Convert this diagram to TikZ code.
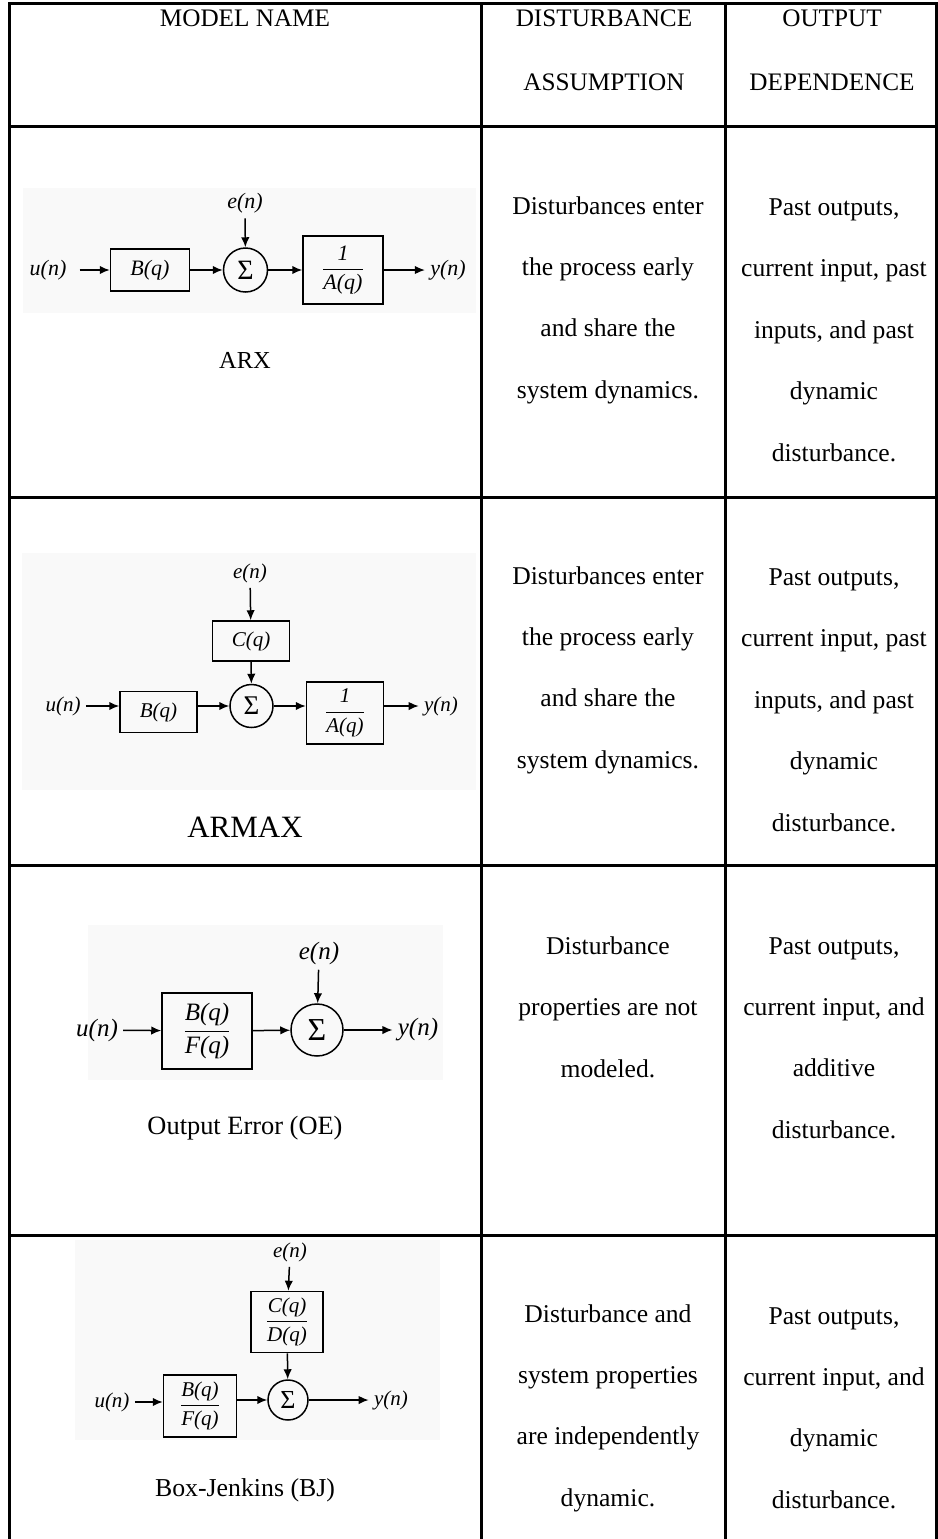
\documentclass[tikz,border=0pt]{standalone}
\usepackage{fontspec}
\setmainfont{Liberation Serif}
\usepackage{tikz}
\usetikzlibrary{arrows.meta}
\newcommand{\blkfrac}[2]{$\displaystyle\frac{\textit{#1}}{\textit{#2}}$}
\newcommand{\fsz}[1]{\fontsize{#1}{#1}\selectfont}

\begin{document}
\begin{tikzpicture}[x=0.5pt,y=-0.5pt,>={Latex[length=5pt,width=4.2pt]},
    grid/.style={line width=1.5pt},
    cell/.style={align=center,inner sep=0pt,font=\fontsize{12.8}{30.7}\selectfont},
    head/.style={align=center,inner sep=0pt,font=\fontsize{12.6}{32}\selectfont},
    bgfill/.style={fill=black!2.5},
    sig/.style={inner sep=2.5pt,font=\itshape},
    blk/.style={draw,line width=0.75pt,inner sep=0pt,font=\itshape},
    sumnode/.style={draw,circle,line width=0.75pt,inner sep=0pt},
    flow/.style={->,line width=0.75pt}]
     \useasboundingbox (0,0) rectangle (938,1539);
     % table rules
     \draw[grid] (9,1539) -- (9,3) -- (936,3) -- (936,1539);
     \draw[grid] (481,3) -- (481,1539);
     \draw[grid] (725,3) -- (725,1539);
     \foreach \y in {126,497,865,1235}
       \draw[grid] (9,\y) -- (936,\y);
     % header row
     \node[head] (hname) at (245,18) {MODEL NAME};
     \node[head] (hdist) at (604,50) {DISTURBANCE\\ASSUMPTION};
     \node[head] (hout) at (832,50) {OUTPUT\\DEPENDENCE};

     % ARX
     \fill[bgfill] (23,188) rectangle (476,313);
     \node[sig,font=\itshape\fsz{11}] (arxe) at (245,203) {e(n)};
     \node[sig,font=\itshape\fsz{11}] (arxu) at (48,270) {u(n)};
     \node[blk,font=\itshape\fsz{11},minimum width=39.5pt,minimum height=21pt] (arxb) at (150,270) {B(q)};
     \node[sumnode,font=\fsz{14},minimum size=22pt] (arxs) at (245.5,270) {Σ};
     \node[blk,font=\fsz{11},minimum width=40pt,minimum height=34pt] (arxa) at (343,270) {\blkfrac{1}{A(q)}};
     \node[sig,font=\itshape\fsz{11}] (arxy) at (448,270) {y(n)};
     \draw[flow,shorten <=4pt] (arxu) -- (arxb);
     \draw[flow] (arxe) -- (arxs);
     \draw[flow] (arxb) -- (arxs);
     \draw[flow] (arxs) -- (arxa);
     \draw[flow] (arxa) -- (arxy);
     \node[font=\fsz{12.2}] (arxname) at (245,360) {ARX};
     \node[cell] (arxdist) at (608,300) {Disturbances enter\\the process early\\and share the\\system dynamics.};
     \node[cell] (arxout) at (834,330) {Past outputs,\\current input, past\\inputs, and past\\dynamic\\disturbance.};

     % ARMAX
     \fill[bgfill] (22,553) rectangle (476,790);
     \node[sig,font=\itshape\fsz{10.5}] (mxe) at (250,573) {e(n)};
     \node[blk,font=\itshape\fsz{10.5},minimum width=38.5pt,minimum height=20pt] (mxc) at (251,641) {C(q)};
     \node[sumnode,font=\fsz{13.5},minimum size=21.5pt] (mxs) at (251.5,706) {Σ};
     \node[sig,font=\itshape\fsz{10.5}] (mxu) at (63,706) {u(n)};
     \node[blk,font=\itshape\fsz{10.5},minimum width=38.5pt,minimum height=20.5pt] (mxb) at (158.5,712) {B(q)};
     \node[blk,font=\fsz{10.5},minimum width=38.5pt,minimum height=31pt] (mxa) at (345,713) {\blkfrac{1}{A(q)}};
     \node[sig,font=\itshape\fsz{10.5}] (mxy) at (441,706) {y(n)};
     \draw[flow] (mxe) -- (mxc);
     \draw[flow] (mxc) -- (mxs);
     \draw[flow] (mxu) -- (mxu -| mxb.west);
     \draw[flow] (mxb.east |- mxs) -- (mxs);
     \draw[flow] (mxs) -- (mxs -| mxa.west);
     \draw[flow] (mxa.east |- mxy) -- (mxy);
     \node[font=\fsz{15.5}] (mxname) at (245,827) {ARMAX};
     \node[cell] (mxdist) at (608,670) {Disturbances enter\\the process early\\and share the\\system dynamics.};
     \node[cell] (mxout) at (834,700) {Past outputs,\\current input, past\\inputs, and past\\dynamic\\disturbance.};

     % OE
     \fill[bgfill] (88,925) rectangle (443,1080);
     \node[sig,font=\itshape\fsz{12.5}] (oee) at (319,953) {e(n)};
     \node[sig,font=\itshape\fsz{12.5}] (oeu) at (97,1030) {u(n)};
     \node[blk,font=\fsz{12.5},minimum width=45pt,minimum height=38pt] (oeb) at (207,1031) {\blkfrac{B(q)}{F(q)}};
     \node[sumnode,font=\fsz{16},minimum size=26pt] (oes) at (317,1030) {Σ};
     \node[sig,font=\itshape\fsz{12.5}] (oey) at (418,1030) {y(n)};
     \draw[flow] (oee) -- (oes);
     \draw[flow] (oeu) -- (oeb);
     \draw[flow] (oeb) -- (oes);
     \draw[flow] (oes) -- (oey);
     \node[font=\fsz{13.2}] (oename) at (245,1128) {Output Error (OE)};
     \node[cell] (oedist) at (608,1007) {Disturbance\\properties are not\\modeled.};
     \node[cell] (oeout) at (834,1038) {Past outputs,\\current input, and\\additive\\disturbance.};

     % BJ
     \fill[bgfill] (75,1240) rectangle (440,1440);
     \node[sig,font=\itshape\fsz{10.5}] (bje) at (290,1252) {e(n)};
     \node[blk,font=\fsz{10.5},minimum width=36pt,minimum height=30.5pt] (bjc) at (287,1322) {\blkfrac{C(q)}{D(q)}};
     \node[sumnode,font=\fsz{13},minimum size=20pt] (bjs) at (288,1400) {Σ};
     \node[sig,font=\itshape\fsz{10.5}] (bju) at (112,1402) {u(n)};
     \node[blk,font=\fsz{10.5},minimum width=36.5pt,minimum height=31pt] (bjb) at (200,1406) {\blkfrac{B(q)}{F(q)}};
     \node[sig,font=\itshape\fsz{10.5}] (bjy) at (391,1400) {y(n)};
     \draw[flow] (bje) -- (bjc);
     \draw[flow] (bjc) -- (bjs);
     \draw[flow] (bju) -- (bju -| bjb.west);
     \draw[flow] (bjb.east |- bjs) -- (bjs);
     \draw[flow] (bjs) -- (bjy);
     \node[font=\fsz{12.9}] (bjname) at (245,1490) {Box-Jenkins (BJ)};
     \node[cell] (bjdist) at (608,1408) {Disturbance and\\system properties\\are independently\\dynamic.};
     \node[cell] (bjout) at (834,1408) {Past outputs,\\current input, and\\dynamic\\disturbance.};
\end{tikzpicture}
\end{document}
